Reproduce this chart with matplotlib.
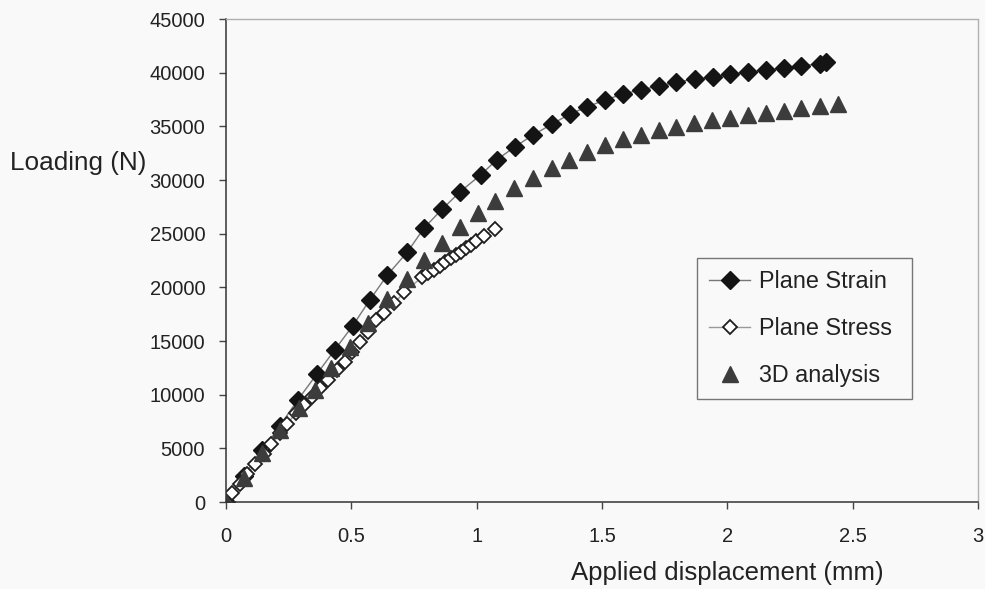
import matplotlib
matplotlib.use("Agg")
from matplotlib import pyplot as plt

plt.rcParams['font.family'] = ['Liberation Sans', 'DejaVu Sans']

# plane strain model (filled diamonds)
strain_x = [0, 0.07, 0.145, 0.215, 0.286, 0.362, 0.433, 0.505, 0.573, 0.644,
            0.724, 0.791, 0.863, 0.934, 1.017, 1.081, 1.153, 1.225, 1.300, 1.372,
            1.439, 1.511, 1.583, 1.654, 1.726, 1.797, 1.873, 1.944, 2.012, 2.083,
            2.155, 2.227, 2.294, 2.370, 2.394]
strain_y = [0, 2400, 4800, 7100, 9500, 11900, 14150, 16400, 18800, 21150,
            23300, 25550, 27300, 28900, 30500, 31900, 33100, 34200, 35200, 36150,
            36800, 37450, 38000, 38400, 38750, 39130, 39400, 39600, 39880, 40060,
            40250, 40430, 40620, 40850, 40950]

# plane stress model (hollow diamonds)
stress_x = [0, 0.025, 0.055, 0.085, 0.115, 0.15, 0.18, 0.215, 0.245, 0.28,
            0.31, 0.342, 0.374, 0.406, 0.441, 0.473, 0.501, 0.533, 0.565, 0.600,
            0.632, 0.672, 0.712, 0.783, 0.807, 0.831, 0.855, 0.875, 0.899, 0.918,
            0.938, 0.958, 0.978, 0.998, 1.030, 1.074]
stress_y = [0, 800, 1700, 2600, 3500, 4500, 5400, 6400, 7300, 8300,
            9000, 9780, 10620, 11370, 12300, 13040, 13980, 14910, 15840, 16960,
            17610, 18540, 19570, 20960, 21340, 21620, 21990, 22360, 22730, 23010,
            23290, 23670, 23950, 24320, 24780, 25440]

# 3D model (triangles)
solid_x = [0, 0.072, 0.143, 0.215, 0.290, 0.354, 0.421, 0.493, 0.565, 0.644,
           0.724, 0.791, 0.863, 0.934, 1.006, 1.074, 1.149, 1.225, 1.300, 1.368,
           1.439, 1.511, 1.583, 1.654, 1.726, 1.797, 1.869, 1.940, 2.012, 2.083,
           2.155, 2.227, 2.294, 2.370, 2.440]
solid_y = [0, 2240, 4570, 6710, 8760, 10440, 12490, 14440, 16680, 18900,
           20780, 22550, 24130, 25620, 26930, 28040, 29260, 30190, 31120, 31860,
           32610, 33260, 33820, 34190, 34660, 34940, 35310, 35590, 35780, 36060,
           36240, 36430, 36710, 36900, 37080]

bg = '#f9f9f9'
fig = plt.figure(figsize=(9.85, 5.89), dpi=100, facecolor=bg)
ax = fig.add_axes([0.2294, 0.1477, 0.7635, 0.82], facecolor=bg)

ax.plot(strain_x, strain_y, color='#777777', lw=1.0, marker='D', ms=9,
        mfc='#141414', mec='#141414', label='Plane Strain')
ax.plot(stress_x, stress_y, color='#999999', lw=1.0, marker='D', ms=7,
        mfc='white', mec='#1e1e1e', mew=1.3, label='Plane Stress')
ax.plot(solid_x, solid_y, ls='none', marker='^', ms=11.5,
        mfc='#3c3c3c', mec='#3c3c3c', label='3D analysis')

ax.set_xlim(0, 3)
ax.set_ylim(0, 45000)
ax.set_xticks([0, 0.5, 1, 1.5, 2, 2.5, 3])
ax.set_xticklabels(['0', '0.5', '1', '1.5', '2', '2.5', '3'])
ax.set_yticks(range(0, 45001, 5000))
ax.tick_params(axis='both', direction='out', length=5, width=1,
               color='#444444', labelsize=14.5, labelcolor='#222222')
ax.tick_params(axis='x', pad=13)
ax.tick_params(axis='y', pad=10)

for side in ('left', 'bottom'):
    ax.spines[side].set_color('#333333')
    ax.spines[side].set_linewidth(1.1)
for side in ('top', 'right'):
    ax.spines[side].set_color('#b0b0b0')
    ax.spines[side].set_linewidth(1.0)
    ax.spines[side].set_linestyle((0, (2, 1)))

fig.text(10 / 985, 1 - 163 / 589, 'Loading (N)', ha='left', va='center',
         fontsize=18.8, color='#222222')
fig.text(727 / 985, 1 - 573 / 589, 'Applied displacement (mm)', ha='center',
         va='center', fontsize=18.5, color='#222222')

# legend box spans x 697..912 px, top edge at 258 px
leg_x0 = (697 - 226) / 752
leg_w = (912 - 697) / 752
leg_top = (502 - 258) / 483
leg = ax.legend(loc='upper left', bbox_to_anchor=(leg_x0, leg_top - 0.3, leg_w, 0.3),
                mode='expand', numpoints=1, fontsize=16.8, frameon=True,
                fancybox=False, borderpad=0.52, labelspacing=1.02,
                handlelength=1.75, handletextpad=0.4, borderaxespad=0)
leg.get_frame().set_edgecolor('#555555')
leg.get_frame().set_linewidth(1.0)
leg.get_frame().set_facecolor(bg)
for t in leg.get_texts():
    t.set_color('#222222')

fig.savefig('out.png', dpi=100, facecolor=bg)
